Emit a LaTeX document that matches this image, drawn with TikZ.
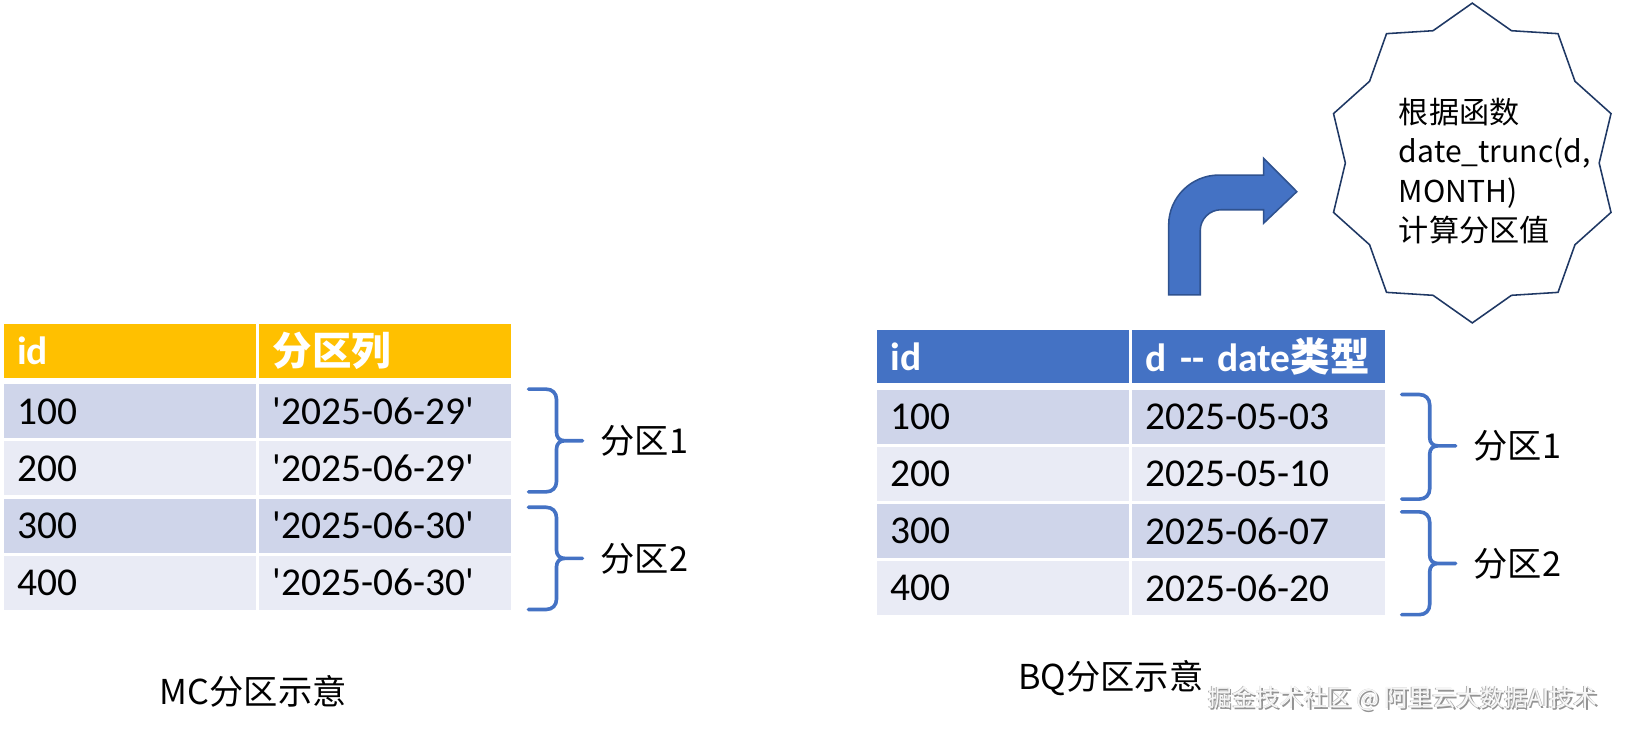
\documentclass[tikz,border=0pt]{standalone}
\usepackage{fontspec}
\setmainfont{Carlito}
\newfontfamily\cjk{Noto Sans CJK SC}
\definecolor{mcorange}{HTML}{FFC000}
\definecolor{bqblue}{HTML}{4472C4}
\definecolor{rowa}{HTML}{CFD5EA}
\definecolor{rowb}{HTML}{E9EBF5}
\definecolor{arrowedge}{HTML}{2F528F}
\definecolor{staredge}{HTML}{1F3864}
\newcommand\pbrace[4]{%
  \draw[bracepath] (#1,#2) -- ({#1+17},#2)
    .. controls ({#1+23},#2) and ({#1+27},{#2+4}) .. ({#1+27},{#2+10})
    -- ({#1+27},{#3-8})
    .. controls ({#1+27},{#3-3}) and ({#1+30},#3) .. ({#1+35},#3)
    -- ({#1+52},#3) -- ({#1+35},#3)
    .. controls ({#1+30},#3) and ({#1+27},{#3+3}) .. ({#1+27},{#3+8})
    -- ({#1+27},{#4-10})
    .. controls ({#1+27},{#4-4}) and ({#1+23},#4) .. ({#1+17},#4)
    -- (#1,#4);}
\begin{document}
\begin{tikzpicture}[x=0.5pt,y=-0.5pt,
  cell/.style={rectangle, draw=white, line width=1.5pt, anchor=north west,
    minimum height=27.5pt, text width=108.5pt, inner xsep=7.25pt, inner ysep=0pt,
    align=left, font=\fontsize{19}{22}\selectfont},
  hcell/.style={cell, minimum height=27.2pt, text=white, font=\fontsize{19}{22}\selectfont\bfseries},
  oddrow/.style={cell, fill=rowa},
  evenrow/.style={cell, fill=rowb},
  bracepath/.style={draw=bqblue, line width=1.75pt, line cap=round, line join=round},
  partlabel/.style={font=\cjk\fontsize{16.5}{20}\selectfont, anchor=west, inner sep=0pt},
  caption/.style={font=\cjk\fontsize{16.5}{20}\selectfont, inner sep=0pt},
  startext/.style={font=\cjk\fontsize{14.5}{19}\selectfont, anchor=west, align=left, inner sep=0pt},
  watermark/.style={font=\cjk\fontsize{11.5}{14}\selectfont, inner sep=0pt},
]
\useasboundingbox (0,0) rectangle (1568,707);

% ---------- left table (MC) ----------
\node[hcell, fill=mcorange] (L00) at (0.5,309.4) {id};
\node[hcell, fill=mcorange] (L01) at (246.5,309.4) {{\cjk\bfseries 分区列}};
\node[oddrow]  (L10) at (0.5,367.2) {100};
\node[oddrow]  (L11) at (246.5,367.2) {\textquotesingle 2025-06-29\textquotesingle};
\node[evenrow] (L20) at (0.5,422.2) {200};
\node[evenrow] (L21) at (246.5,422.2) {\textquotesingle 2025-06-29\textquotesingle};
\node[oddrow]  (L30) at (0.5,477.2) {300};
\node[oddrow]  (L31) at (246.5,477.2) {\textquotesingle 2025-06-30\textquotesingle};
\node[evenrow] (L40) at (0.5,532.2) {400};
\node[evenrow] (L41) at (246.5,532.2) {\textquotesingle 2025-06-30\textquotesingle};

\pbrace{509}{374.8}{424.5}{473.7}
\pbrace{509}{488.6}{537.8}{587}
\node[partlabel] (Lp1) at (578,424.5) {分区1};
\node[partlabel] (Lp2) at (578,537.8) {分区2};
\node[caption] (Lcap) at (244,666) {MC分区示意};

% ---------- right table (BQ) ----------
\node[hcell, fill=bqblue] (R00) at (841.5,314.8) {id};
\node[hcell, fill=bqblue] (R01) at (1087.5,314.8) {d -{}- date{\cjk\bfseries 类型}};
\node[oddrow]  (R10) at (841.5,372.5) {100};
\node[oddrow]  (R11) at (1087.5,372.5) {2025-05-03};
\node[evenrow] (R20) at (841.5,427.5) {200};
\node[evenrow] (R21) at (1087.5,427.5) {2025-05-10};
\node[oddrow]  (R30) at (841.5,482.5) {300};
\node[oddrow]  (R31) at (1087.5,482.5) {2025-06-07};
\node[evenrow] (R40) at (841.5,537.5) {400};
\node[evenrow] (R41) at (1087.5,537.5) {2025-06-20};

\pbrace{1350}{380}{429.4}{480.7}
\pbrace{1350}{493}{542.7}{592}
\node[partlabel] (Rp1) at (1419,429.4) {分区1};
\node[partlabel] (Rp2) at (1419,542.7) {分区2};
\node[caption] (Rcap) at (1070,652.7) {BQ分区示意};

% ---------- bent arrow ----------
\draw[fill=bqblue, draw=arrowedge, line width=0.75pt, line join=miter]
  (1125.6,284) -- (1125.6,216.6)
  .. controls (1125.6,190.1) and (1147.5,168.6) .. (1174,168.6)
  -- (1217,168.6) -- (1217,152.5) -- (1249,184.6) -- (1217,215) -- (1217,202)
  -- (1176,202)
  .. controls (1165,202) and (1156,211) .. (1156,222)
  -- (1156,284) -- cycle;

% ---------- starburst ----------
\draw[fill=white, draw=staredge, line width=0.75pt, line join=miter]
  plot[variable=\k, samples at={0,...,19}]
  ({1418+140.5*(1-0.13*mod(\k,2))*cos(90+18*\k)},
   {157-154*(1-0.13*mod(\k,2))*sin(90+18*\k)}) -- cycle;
\node[startext] (calc) at (1347,164.6)
  {根据函数\\date\_trunc(d,\\MONTH)\\计算分区值};

% ---------- watermark ----------
\node[watermark, text=gray!85] (wmshadow) at (1352.6,674.6) {掘金技术社区 @ 阿里云大数据AI技术};
\node[watermark, text=gray!60] (wmedge) at (1350.4,672.4) {掘金技术社区 @ 阿里云大数据AI技术};
\node[watermark, text=gray!6] (wm) at (1351,673) {掘金技术社区 @ 阿里云大数据AI技术};
\end{tikzpicture}
\end{document}
